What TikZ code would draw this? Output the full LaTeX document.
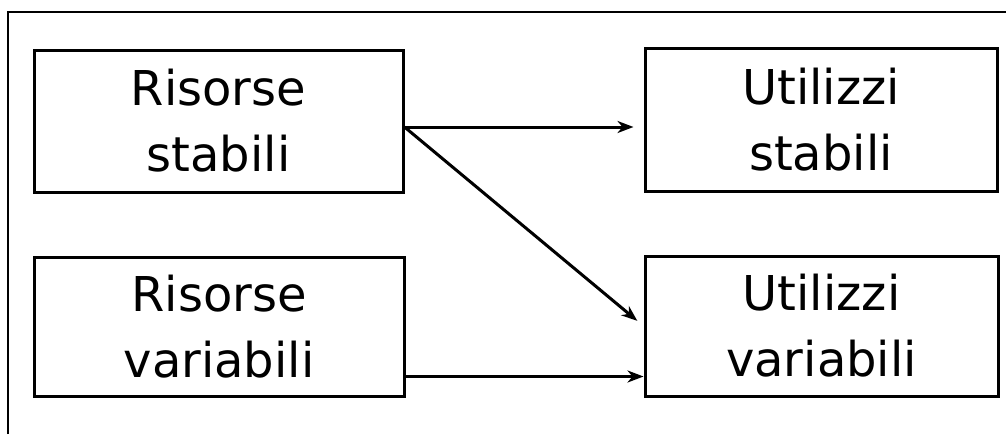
\documentclass[tikz,border=0pt]{standalone}
\usepackage{fontspec}
\setmainfont{DejaVu Sans}
\usetikzlibrary{arrows.meta}
\begin{document}
\begin{tikzpicture}[x=1pt,y=-1pt,
  box/.style={draw, line width=3pt, rectangle, align=center, inner sep=0pt,
    font=\fontsize{48}{66}\selectfont},
  arr/.style={line width=3pt, -{Stealth[length=16pt,width=12pt,inset=5pt]}}]
\useasboundingbox (0,0) rectangle (1006,434);
\draw[line width=2pt] (8,434) -- (8,12) -- (1006,12);
\node[box, minimum width=369pt, minimum height=142pt] (rs) at (218.5,121) {Risorse\\stabili};
\node[box, minimum width=370pt, minimum height=139pt] (rv) at (219,326.5) {Risorse\\variabili};
\node[box, minimum width=352pt, minimum height=143pt] (us) at (821,119.5) {Utilizzi\\stabili};
\node[box, minimum width=353pt, minimum height=140pt] (uv) at (821.5,326) {Utilizzi\\variabili};
\coordinate (rsout) at ([yshift=-6pt]rs.east);
\coordinate (rvout) at ([yshift=-50pt]rv.east);
\draw[arr, shorten >=10pt] (rsout) -- (rsout -| us.west);
\draw[arr, shorten >=8pt] (rsout) -- (uv.west);
\draw[arr] (rvout) -- (rvout -| uv.west);
\end{tikzpicture}
\end{document}
